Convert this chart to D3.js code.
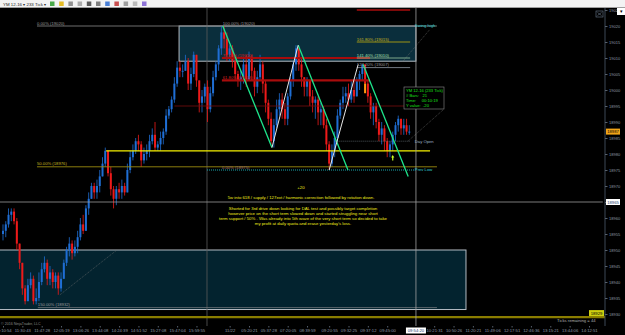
<!DOCTYPE html>
<html>
<head>
<meta charset="utf-8">
<style>
  body { margin: 0; background: #000; }
  svg { display: block; font-family: "Liberation Sans", Arial, sans-serif; }
  .yax text { fill: #8e9aa8; font-size: 4px; }
  .xax text { fill: #8e9aa8; font-size: 4.2px; }
  .yax line, .xax line { stroke: #56606c; }
  .yax path, .xax path { display: none; }
  .note { fill: #f2ee1c; font-size: 4.3px; text-anchor: middle; }
  .lbl { font-size: 4.2px; }
  .info { fill: #19e019; font-size: 4.1px; }
</style>
<script src="https://cdnjs.cloudflare.com/ajax/libs/d3/7.8.5/d3.min.js"></script>
</head>
<body>
<svg id="chart" width="625" height="335"></svg>
<script>
// YM 12-16, 233 tick bars (open of each bar = previous close)
const firstOpen = 18955;
const closes = [18956,18958,18961,18962,18959,18952,18946,18938,18934,18939,
  18941,18934,18935,18940,18944,18946,18941,18943,18940,18942,
  18938,18941,18946,18950,18952,18949,18951,18954,18958,18956,
  18963,18966,18970,18968,18970,18973,18977,18981,18974,18969,
  18966,18969,18968,18970,18968,18975,18979,18981,18984,18983,
  18978,18980,18981,18984,18986,18982,18983,18985,18987,18992,
  18994,18997,19002,19007,19006,19006,19009,19002,19005,19011,
  19003,18996,18998,19001,18994,18999,19004,19008,19013,19018,
  19016,19011,19013,19009,19005,19003,19004,19008,19003,19010,
  19006,19001,19004,19008,19002,18996,18991,18984,18989,18994,
  18997,18994,18991,18998,19003,19008,19013,19008,19004,19001,
  19003,18998,18996,18997,18993,18994,18989,18983,18977,18981,
  18985,18992,18996,18998,18999,18997,19000,18998,19003,19005,
  19008,19002,18998,18993,18995,18990,18986,18988,18984,18981,
  18983,18986,18989,18991,18988,18989,18987,18987];
const highs = [18958,18959,18963,18963,18963,18960,18952,18946,18939,18941,
  18943,18942,18938,18943,18946,18948,18947,18945,18944,18943,
  18943,18943,18947,18951,18954,18953,18953,18956,18960,18961,
  18964,18968,18971,18971,18972,18975,18979,18982,18981,18976,
  18970,18970,18971,18972,18971,18977,18981,18983,18985,18986,
  18984,18982,18983,18986,18988,18990,18984,18987,18988,18994,
  18995,18998,19004,19009,19009,19008,19011,19010,19007,19012,
  19011,19003,19000,19002,19003,19001,19006,19009,19014,19020,
  19020,19018,19014,19014,19011,19006,19006,19010,19011,19012,
  19011,19007,19006,19011,19009,19003,18997,18993,18991,18997,
  18999,18999,18996,18999,19004,19009,19014,19013,19010,19004,
  19004,19003,19000,18998,18998,18996,18995,18991,18984,18983,
  18987,18994,18997,19001,19001,19002,19003,19003,19004,19006,
  19008,19008,19003,18999,18996,18996,18991,18990,18989,18985,
  18984,18987,18990,18992,18991,18991,18991,18989];
const lows = [18953,18954,18957,18959,18958,18950,18944,18936,18933,18934,
  18938,18933,18933,18934,18939,18943,18939,18939,18938,18938,
  18936,18937,18941,18945,18948,18947,18948,18949,18953,18955,
  18956,18961,18966,18966,18966,18968,18973,18976,18973,18967,
  18963,18964,18966,18966,18967,18968,18974,18978,18980,18981,
  18976,18977,18978,18979,18983,18981,18981,18981,18983,18986,
  18991,18993,18996,19001,19004,19004,19006,19000,19000,19004,
  19001,18993,18993,18996,18990,18993,18998,19003,19006,19011,
  19013,19009,19009,19007,19003,19001,19000,19002,19001,19003,
  19003,18998,18999,19003,18999,18993,18989,18983,18982,18988,
  18992,18991,18989,18989,18997,19001,19006,19006,19001,18998,
  18998,18995,18993,18991,18989,18989,18988,18981,18975,18976,
  18979,18984,18991,18994,18996,18995,18996,18996,18998,19000,
  19003,18999,18996,18991,18989,18988,18984,18983,18981,18979,
  18979,18981,18984,18987,18986,18986,18986,18986];

// price axis and time axis labels
const priceTicks = [19025,19020,19015,19010,19005,19000,18995,18990,18985,18980,
  18975,18970,18965,18960,18955,18950,18945,18940,18935,18930];
const timeLabels = ['10:10:54','11:30:43','11:47:28','12:05:19','13:06:26','13:44:08',
  '14:24:39','14:51:52','15:27:08','15:47:04','15:59:55','11/22','05:20:21','05:37:28',
  '07:20:05','08:39:59','09:20:55','09:32:25','09:37:12','09:45:00','10:21:31',
  '10:50:26','11:20:21','11:49:06','12:17:51','12:46:36','13:15:21','13:44:06','14:12:51'];
const timeBars = [0,7,14,21,28,35,42,49,56,63,70,82,89,96,103,110,118,125,132,139,
  156,163,170,177,184,191,198,205,212];

// horizontal levels: price, first bar, last bar, kind
const levelPrice = [19020, 19010, 19003, 18995, 18981, 18976, 18975, 18984, 19025, 19015, 19010, 19007, 18932, 18965];
const levelFrom  = [12.3, 79.2, 79.2, 62, 37.3, 12.3, 73.8, 120, 128, 128, 128, 128, 12.6, -3];
const levelTo    = [157, 132.8, 132.8, 147.3, 154.5, 157, 149, 147.3, 147.3, 147.3, 147.3, 147.3, 157, 217];
const levelKind  = ['gray','red','red','darkred','yellow','olive','cyan','dots','darkred2','olive2','mint','gray2','gray3','cross'];

const labelText  = ['0.00% (19020)','100.00% (19020)','78.60% (19010)','61.80% (19003)',
  '161.80% (19015)','141.40% (19010)','127.20% (19007)','50.00% (18976)','0.00% (18975)',
  '150.00% (18932)','Swing high','Prev Low','Day Open'];
const labelBar   = [12.3, 79.5, 79.5, 79.5, 128, 128, 128, 12.3, 79.2, 12.6, 149, 149, 149];
const labelPrice = [19020, 19020, 19010, 19003, 19015, 19010, 19007, 18976, 18975, 18932, 19020, 18975, 18984];
const labelKind  = ['gray','gray','red','red','olive','mint','gray','olive','grayred','gray','cyan','cyan','blue'];

// swing legs: [start bar, start price, end bar, end price]
const downLegs = [[79.5, 19020, 97.3, 18982], [106.8, 19014, 124.8, 18975], [130.3, 19008, 146.6, 18973]];
const upLegs   = [[97.3, 18982, 106.8, 19014], [118, 18975, 128.5, 19008]];

// supply / demand zones: [first bar, last bar, top, bottom]
const zones = [[63.7, 149.4, 19020, 19009], [-2, 167.5, 18950, 18931.4]];

const lastPrice = 18987, crossPrice = 18965, crossBar = 149.4, sessionBar = 73.8;
const oliveLine = 18929.5, olivePrice = 18929;

const svg = d3.select('#chart');
const x = d3.scaleLinear().domain([0, 217]).range([3, 602.8]);
const y = d3.scaleLinear().domain([18930, 19025]).range([314, 10]);
const axisX = 605, plotBottom = 326;

svg.append('rect').attr('width', 625).attr('height', 335).attr('fill', '#000');

// zones
svg.selectAll('rect.zone').data(zones).enter().append('rect')
  .attr('class', 'zone')
  .attr('x', d => x(d[0])).attr('width', d => x(d[1]) - x(d[0]))
  .attr('y', d => y(d[2])).attr('height', d => y(d[3]) - y(d[2]))
  .attr('fill', (d, i) => i ? '#03232f' : '#0a2e3c')
  .attr('stroke', '#b4bcc4').attr('stroke-width', 1);

// session break
svg.append('line').attr('x1', x(sessionBar)).attr('x2', x(sessionBar)).attr('y1', 8).attr('y2', plotBottom)
  .attr('stroke', '#5a5a5a').attr('stroke-width', 0.8);

// dotted helper lines
const dotted = [[20.6, 18936, 41.2, 18950], [146.5, 18984, 159.5, 18994], [144.7, 19009, 154.5, 19019]];
svg.selectAll('line.dot').data(dotted).enter().append('line')
  .attr('x1', d => x(d[0])).attr('y1', d => y(d[1])).attr('x2', d => x(d[2])).attr('y2', d => y(d[3]))
  .attr('stroke', '#707070').attr('stroke-width', 0.6).attr('stroke-dasharray', '1,1');

// candles
const bars = closes.map((c, i) => ({
  i: i, o: i ? closes[i - 1] : firstOpen, c: c, h: highs[i], l: lows[i]
}));
const upCol = '#1f6ed4', dnCol = '#ee1a1a';
const g = svg.append('g');
g.selectAll('line').data(bars).enter().append('line')
  .attr('x1', d => x(d.i)).attr('x2', d => x(d.i))
  .attr('y1', d => y(Math.max(d.h, d.o, d.c))).attr('y2', d => y(Math.min(d.l, d.o, d.c)))
  .attr('stroke', d => d.c >= d.o ? upCol : dnCol).attr('stroke-width', 0.8);
g.selectAll('rect').data(bars).enter().append('rect')
  .attr('x', d => x(d.i) - 1).attr('width', 2)
  .attr('y', d => y(Math.max(d.o, d.c)))
  .attr('height', d => Math.max(1, Math.abs(y(d.o) - y(d.c))))
  .attr('fill', d => d.c >= d.o ? upCol : dnCol);

// orange marker bar
svg.append('rect').attr('x', x(131) - 1).attr('width', 2).attr('y', y(19002)).attr('height', y(18999) - y(19002))
  .attr('fill', '#ff9a10');

// levels
const lvStyle = {
  gray: ['#8c8c8c', 0.8, null], red: ['#a80c0c', 2.2, null], darkred: ['#7a0c0c', 0.8, null],
  yellow: ['#f6f200', 1.2, null], olive: ['#9a8a10', 0.9, null], cyan: ['#1aa8b0', 1.2, '1,1'],
  dots: ['#7c8a94', 0.6, '1,1'], darkred2: ['#a80c0c', 1.5, null], olive2: ['#b0a010', 0.9, null],
  mint: ['#9ac8a0', 0.8, null], gray2: ['#8e98a4', 0.8, null], gray3: ['#70757a', 0.8, null],
  cross: ['#9a9a9a', 0.8, null]
};
levelPrice.forEach((p, i) => {
  const s = lvStyle[levelKind[i]];
  svg.append('line')
    .attr('x1', x(levelFrom[i])).attr('x2', Math.min(x(levelTo[i]), axisX))
    .attr('y1', y(p)).attr('y2', y(p))
    .attr('stroke', s[0]).attr('stroke-width', s[1]).attr('stroke-dasharray', s[2]);
});
svg.append('line').attr('x1', 0).attr('x2', axisX).attr('y1', y(oliveLine) + 1.5).attr('y2', y(oliveLine) + 1.5)
  .attr('stroke', '#8a7d00').attr('stroke-width', 2.2);

// crosshair vertical
svg.append('line').attr('x1', x(crossBar)).attr('x2', x(crossBar)).attr('y1', 8).attr('y2', plotBottom)
  .attr('stroke', '#a0a0a0').attr('stroke-width', 0.8);

// swing legs
svg.selectAll('line.dn').data(downLegs).enter().append('line')
  .attr('x1', d => x(d[0])).attr('y1', d => y(d[1])).attr('x2', d => x(d[2])).attr('y2', d => y(d[3]))
  .attr('stroke', '#1ee68c').attr('stroke-width', 1.3);
svg.selectAll('line.up').data(upLegs).enter().append('line')
  .attr('x1', d => x(d[0])).attr('y1', d => y(d[1])).attr('x2', d => x(d[2])).attr('y2', d => y(d[3]))
  .attr('stroke', '#e6e6e6').attr('stroke-width', 1);

// level labels
const lblCol = { gray: '#9a9a9a', red: '#d42020', olive: '#c8b820', mint: '#a8e0b0',
  grayred: '#a07070', cyan: '#30d0d8', blue: '#9ab0c8' };
labelText.forEach((t, i) => {
  svg.append('text').attr('class', 'lbl')
    .attr('x', x(labelBar[i])).attr('y', y(labelPrice[i]) + (labelKind[i] === 'cyan' || labelKind[i] === 'blue' ? 1.4 : -1.4))
    .attr('fill', lblCol[labelKind[i]]).text(t);
});

// yellow arrow
svg.append('path').attr('d', `M${x(141)},${y(18980) + 1} l-1.6,2.4 h1 v3 h1.2 v-3 h1 z`).attr('fill', '#c8ff20');

// info box (ruler)
const infoLines = ['YM 12-16 (233 Tick)', '# Bars:   21', 'Time:     00:10:19', 'Y value:  -20'];
svg.append('rect').attr('x', 404).attr('y', 87).attr('width', 40).attr('height', 22)
  .attr('fill', '#000').attr('stroke', '#8a8a8a').attr('stroke-width', 0.6);
svg.selectAll('text.info').data(infoLines).enter().append('text').attr('class', 'info')
  .attr('x', 406).attr('y', (d, i) => 91.5 + i * 5).attr('xml:space', 'preserve').text(d => d);

// trade notes
const notes = ['+20', '5w into 618 / supply / 127ext / harmonic correction followed by rotation down.'];
const para = ['Shorted for 3rd drive down looking for DAL test and possibly target completion',
  'however price on the short term slowed down and started struggling near short',
  'term support / 50% .  Was already into 5th wave of the very short term so decided to take',
  'my profit at daily quota and erase yesterday\'s loss.'];
svg.append('text').attr('class', 'note').attr('x', 301).attr('y', 189).text(notes[0]);
svg.append('text').attr('class', 'note').attr('x', 301).attr('y', 199).text(notes[1]);
svg.selectAll('text.para').data(para).enter().append('text').attr('class', 'note')
  .attr('x', 303).attr('y', (d, i) => 210 + i * 5).text(d => d);

// price axis (crosshair badge takes the place of its own tick label)
svg.append('line').attr('x1', axisX).attr('x2', axisX).attr('y1', 8).attr('y2', plotBottom).attr('stroke', '#3c4856');
svg.append('g').attr('class', 'yax').attr('transform', `translate(${axisX},0)`)
  .call(d3.axisRight(y).tickValues(priceTicks).tickSize(2.5).tickPadding(1.5)
    .tickFormat(d => d === crossPrice ? '' : d3.format('d')(d)));

// time axis
svg.append('g').attr('class', 'xax').attr('transform', `translate(0,${plotBottom})`)
  .call(d3.axisBottom(x).tickValues(timeBars).tickSize(1.5).tickPadding(1.5)
    .tickFormat((d, i) => timeLabels[i]));

// axis badges
function badge(px, py, w, bg, fg, t) {
  svg.append('rect').attr('x', px).attr('y', py - 3).attr('width', w).attr('height', 6).attr('fill', bg);
  svg.append('text').attr('x', px + w / 2).attr('y', py + 1.5).attr('text-anchor', 'middle')
    .attr('font-size', 4.2).attr('fill', fg).text(t);
}
badge(axisX + 1, y(lastPrice), 14, '#f0a418', '#000', d3.format('d')(lastPrice));
badge(axisX + 1, y(crossPrice), 14, '#ffffff', '#1a3a6a', d3.format('d')(crossPrice));
badge(axisX - 16, y(oliveLine) - 2.5, 15, '#cfcf10', '#000', d3.format('d')(olivePrice));
badge(x(crossBar) - 10, 330.5, 20, '#ffffff', '#1a3a6a', '09:54:20');

// misc chart text
svg.append('text').attr('x', 557).attr('y', 322).attr('font-size', 4.2).attr('fill', '#b0b0b0').text('Ticks remaining = 44');
svg.append('text').attr('x', 1).attr('y', 324.5).attr('font-size', 3.6).attr('fill', '#8a8a8a').text('\u00a9 2016 NinjaTrader, LLC');
svg.append('rect').attr('x', 596).attr('y', 11).attr('width', 7).attr('height', 6).attr('fill', 'none').attr('stroke', '#6c7c90').attr('stroke-width', 0.6);
svg.append('path').attr('d', 'M597.5,12.5 L601.5,15.5 M601.5,12.5 L597.5,15.5').attr('stroke', '#6c7c90').attr('stroke-width', 0.6);

// toolbar
svg.append('rect').attr('width', 625).attr('height', 7.5).attr('fill', '#f3f3f3');
svg.append('line').attr('x1', 0).attr('x2', 625).attr('y1', 7.5).attr('y2', 7.5).attr('stroke', '#b8b8b8').attr('stroke-width', 0.6);
svg.append('text').attr('x', 3).attr('y', 5.6).attr('font-size', 4.4).attr('fill', '#222').text('YM 12-16 \u25be   233 Tick \u25be');
const toolIcons = ['#2a9a2a', '#e0b000', '#808080', '#a0a0a0', '#404040', '#6a6a6a', '#2a6ad0', '#c03030', '#909090', '#b0b0b0', '#7a5ad0'];
svg.selectAll('rect.tool').data(toolIcons).enter().append('rect')
  .attr('x', (d, i) => 50 + i * 9.2).attr('y', 1.5).attr('width', 4.5).attr('height', 4.5)
  .attr('fill', d => d).attr('opacity', 0.85);
svg.append('rect').attr('x', 617).attr('y', 8).attr('width', 8).attr('height', 7).attr('fill', '#fff');
svg.append('text').attr('x', 621).attr('y', 13).attr('text-anchor', 'middle').attr('font-size', 5).attr('fill', '#000').text('\u25be');
</script>
</body>
</html>
